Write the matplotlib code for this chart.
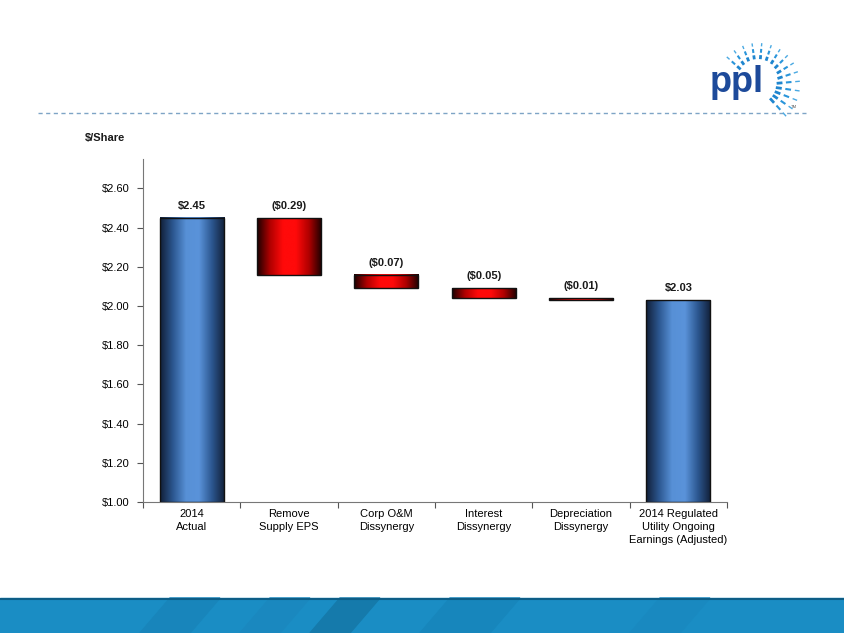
import numpy as np
import matplotlib
matplotlib.use('Agg')
import matplotlib.pyplot as plt
from matplotlib.colors import LinearSegmentedColormap
from matplotlib.patches import Rectangle, Polygon

plt.rcParams['font.family'] = ['Liberation Sans', 'DejaVu Sans']

# data
categories = ['2014\nActual', 'Remove\nSupply EPS', 'Corp O&M\nDissynergy',
              'Interest\nDissynergy', 'Depreciation\nDissynergy',
              '2014 Regulated\nUtility Ongoing\nEarnings (Adjusted)']
start_value = 2.45
deltas = [-0.29, -0.07, -0.05, -0.01]
end_value = 2.03
value_labels = ['$2.45', '($0.29)', '($0.07)', '($0.05)', '($0.01)', '$2.03']
y_ticks = [1.00, 1.20, 1.40, 1.60, 1.80, 2.00, 2.20, 2.40, 2.60]

# bar extents
lows, highs, kinds = [1.0], [start_value], ['total']
level = start_value
for d in deltas:
    new = level + d
    lows.append(min(level, new))
    highs.append(max(level, new))
    kinds.append('delta')
    level = new
lows.append(1.0)
highs.append(end_value)
kinds.append('total')

blue_cmap = LinearSegmentedColormap.from_list(
    'bl', ['#111f38', '#2c5790', '#5790d6', '#5a93da', '#2c5790', '#111f38'])
red_cmap = LinearSegmentedColormap.from_list(
    'rd', ['#1a0000', '#b00000', '#ff0a0a', '#ff0a0a', '#b00000', '#1a0000'])
grad = np.linspace(0, 1, 256).reshape(1, -1)

fig = plt.figure(figsize=(8.44, 6.33), dpi=100)
ax = fig.add_axes([143 / 844, 1 - 502 / 633, 584 / 844, 343 / 633])

width = 0.66
for i, (lo, hi, kind) in enumerate(zip(lows, highs, kinds)):
    cmap = blue_cmap if kind == 'total' else red_cmap
    x0, x1 = i - width / 2, i + width / 2
    ax.imshow(grad, extent=[x0, x1, lo, hi], aspect='auto', cmap=cmap,
              interpolation='bilinear', zorder=2)
    ax.add_patch(Rectangle((x0, lo), width, hi - lo, fill=False,
                           edgecolor='#111111', linewidth=1.0, zorder=3))
    ax.annotate(value_labels[i], (i, hi), xytext=(0, 5), textcoords='offset points',
                ha='center', va='bottom', fontsize=8, fontweight='bold', color='#1a1a1a')

ax.set_xlim(-0.5, len(categories) - 0.5)
ax.set_ylim(1.0, 2.75)
ax.set_yticks(y_ticks)
ax.set_yticklabels([f'${v:.2f}' for v in y_ticks], fontsize=8)
ax.set_xticks(np.arange(-0.5, len(categories), 1.0))
ax.set_xticklabels([])
ax.set_xticks(np.arange(len(categories)), minor=True)
ax.set_xticklabels(categories, minor=True, fontsize=8, linespacing=1.4)
ax.tick_params(axis='x', which='minor', length=0, pad=5)
ax.tick_params(axis='x', which='major', length=4, color='#555555')
ax.tick_params(axis='y', length=4, color='#555555', pad=6)
for s in ['top', 'right']:
    ax.spines[s].set_visible(False)
for s in ['left', 'bottom']:
    ax.spines[s].set_color('#777777')
    ax.spines[s].set_linewidth(0.8)

fig.text(85 / 844, 1 - 138 / 633, '$/Share', fontsize=8, fontweight='bold',
         va='center', ha='left', color='#1a1a1a')

# page decoration (header line, logo, footer band) in pixel coordinates
deco = fig.add_axes([0, 0, 1, 1], zorder=-1)
deco.set_xlim(0, 844)
deco.set_ylim(633, 0)
deco.axis('off')
deco.plot([38, 806], [113, 113], color='#7ea4c6', linewidth=1.0, linestyle=(0, (3, 2.5)))

# sunburst rays around the "l"
cx, cy = 758, 85
for ang in np.linspace(138, -48, 15):
    a = np.deg2rad(ang)
    r_in = 18 + 8 * max(np.sin(a), 0)
    span = 42 - r_in
    segs = [(r_in, r_in + span * 0.25, 2.0, '#1f86cf'),
            (r_in + span * 0.40, r_in + span * 0.64, 1.5, '#2a95da'),
            (r_in + span * 0.80, 42, 1.0, '#4aa9e2')]
    for r0, r1, lw, col in segs:
        deco.plot([cx + r0 * np.cos(a), cx + r1 * np.cos(a)],
                  [cy - r0 * np.sin(a), cy - r1 * np.sin(a)],
                  color=col, linewidth=lw, solid_capstyle='butt')
deco.text(737, 83, 'ppl', fontsize=26, fontweight='bold', color='#1d4a9a',
          ha='center', va='center')
deco.text(794, 107, 'TM', fontsize=3, color='#555555', ha='center', va='center')

# footer band
deco.add_patch(Rectangle((0, 598), 844, 35, color='#1a8dc4', zorder=1))
for xa, xb, c in [(150, 200, '#1885bb'), (250, 290, '#1a88bf'), (320, 360, '#157aab'),
                  (430, 500, '#1786bc'), (640, 690, '#1989c0')]:
    deco.add_patch(Polygon([[xa + 20, 598], [xb + 20, 598], [xb - 10, 633], [xa - 10, 633]],
                           closed=True, color=c, zorder=1))
deco.plot([0, 844], [598.5, 598.5], color='#0d5d86', linewidth=1.5, zorder=2)

fig.savefig('out.png', dpi=100)
